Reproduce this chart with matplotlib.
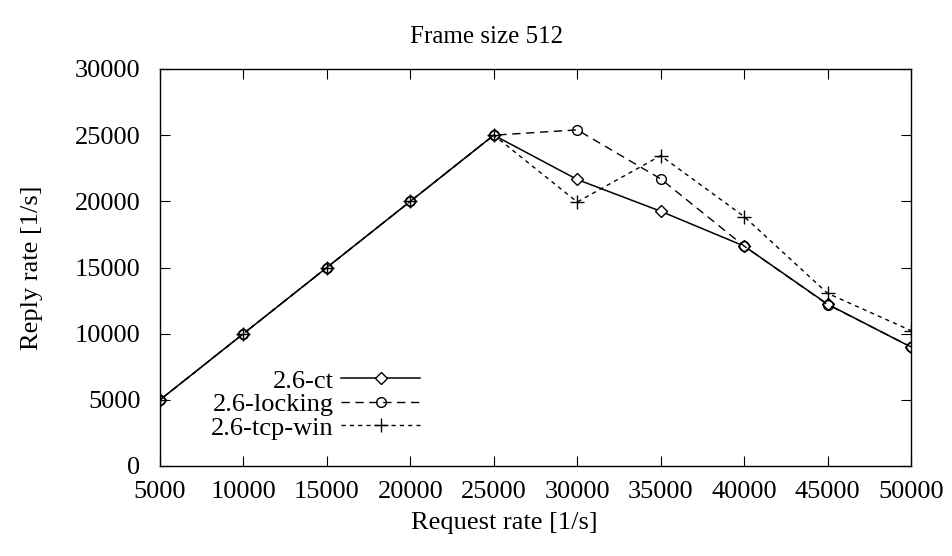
import matplotlib.pyplot as plt

plt.rcParams["font.family"] = ["Liberation Serif", "DejaVu Serif"]
plt.rcParams["font.size"] = 19

# Request rate (x) and reply rates for each kernel variant
request_rate = [5000, 10000, 15000, 20000, 25000, 30000, 35000, 40000, 45000, 50000]
reply_ct = [5000, 10000, 15000, 20000, 25000, 21650, 19250, 16620, 12230, 8990]
reply_locking = [5000, 10000, 15000, 20000, 25000, 25400, 21700, 16620, 12200, 9000]
reply_tcp_win = [5000, 10000, 15000, 20000, 25000, 19950, 23450, 18850, 13050, 10230]

fig = plt.figure(figsize=(9.52, 5.56), dpi=100)
ax = fig.add_axes([160 / 952, 1 - 466 / 556, 751 / 952, 397 / 556])

ax.plot(request_rate, reply_ct, color="black", lw=1.1, ls="-",
        marker="D", markersize=6, mfc="white", mec="black", mew=1.0, label="2.6-ct")
ax.plot(request_rate, reply_locking, color="black", lw=1.0, ls=(0, (6, 4)),
        marker="o", markersize=7, mfc="none", mec="black", mew=1.0, label="2.6-locking")
ax.plot(request_rate, reply_tcp_win, color="black", lw=1.0, ls=(0, (3, 3)),
        marker="+", markersize=10, mec="black", mew=1.0, label="2.6-tcp-win")

ax.set_xlim(5000, 50000)
ax.set_ylim(0, 30000)
ax.set_xticks(range(5000, 50001, 5000))
ax.set_yticks(range(0, 30001, 5000))
ax.tick_params(direction="in", length=7, top=True, right=True)
ax.tick_params(axis="x", pad=11)
ax.tick_params(axis="y", pad=14)
for s in ax.spines.values():
    s.set_linewidth(1.0)

fig.text(487 / 952, 1 - 37 / 556, "Frame size 512", ha="center", va="center", fontsize=18)
ax.set_xlabel("Request rate [1/s]", va="center")
ax.set_ylabel("Reply rate [1/s]", va="center")
ax.xaxis.set_label_coords(0.459, -0.144)
ax.yaxis.set_label_coords(-0.17, 0.5)

ax.legend(loc="lower left", bbox_to_anchor=(0.043, 0.02), frameon=False,
          markerfirst=False, handlelength=3.0, handletextpad=0.3,
          labelspacing=0.0, borderpad=0.2)

fig.savefig("out.png", dpi=100)
